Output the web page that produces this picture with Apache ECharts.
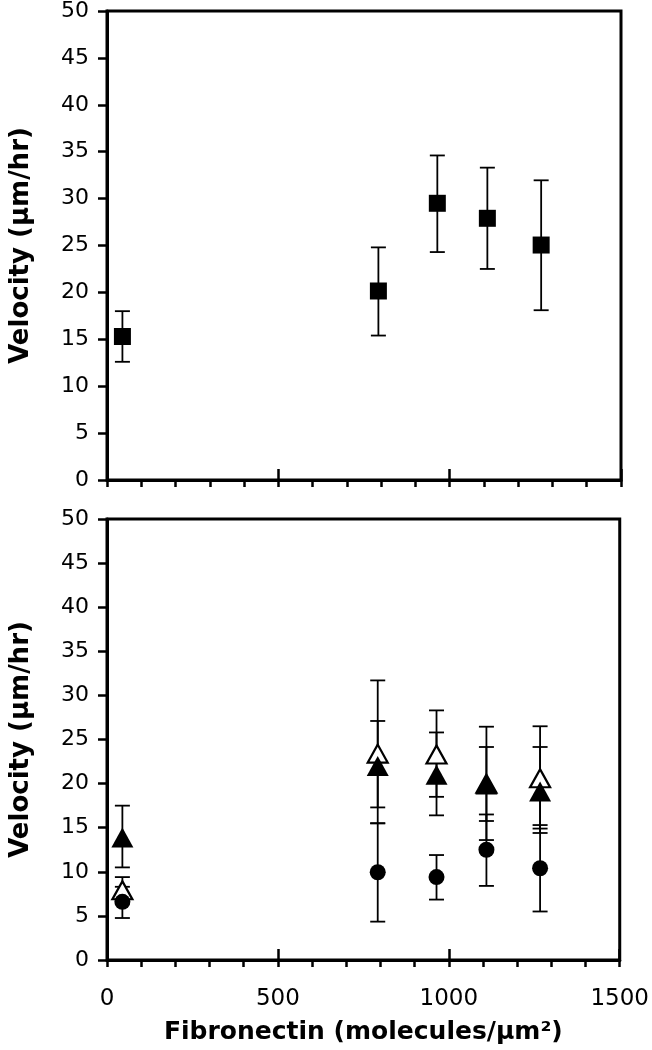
<!DOCTYPE html>
<html>
<head>
<meta charset="utf-8">
<script src="https://cdn.jsdelivr.net/npm/echarts@6/dist/echarts.min.js"></script>
<style>
  html, body { margin: 0; padding: 0; background: #fff; }
  #chart { width: 652px; height: 1050px; }
</style>
</head>
<body>
<div id="chart"></div>
<script>
// fibronectin densities (molecules/µm²)
var fibronectin = [45, 792, 964, 1110, 1267];

// top panel: squares
var sqVel = [15.3, 20.15, 29.5, 27.9, 25.05];
var sqLow = [12.6, 15.4, 24.3, 22.5, 18.1];
var sqHigh = [18.0, 24.8, 34.6, 33.3, 31.95];

// bottom panel: filled triangles
var triVel = [13.9, 22.0, 21.0, 19.9, 19.1];
var triLow = [10.5, 17.3, 16.4, 15.76, 14.4];
var triHigh = [17.5, 27.1, 25.8, 24.15, 24.15];

// bottom panel: open triangles
var openVel = [7.9, 23.4, 23.3, 20.0, 20.6];
var openLow = [6.4, 15.5, 18.5, 13.6, 14.9];
var openHigh = [9.4, 31.7, 28.3, 26.45, 26.5];

// bottom panel: circles
var cirVel = [6.6, 9.95, 9.4, 12.5, 10.4];
var cirLow = [4.76, 4.35, 6.85, 8.4, 5.5];
var cirHigh = [8.3, 15.5, 11.9, 16.5, 15.3];

var font = "'DejaVu Sans', 'Liberation Sans', Arial, sans-serif";

function pts(xs, ys) {
    var out = [];
    for (var i = 0; i < xs.length; i++) out.push([xs[i], ys[i]]);
    return out;
}
function errs(xs, lo, hi) {
    var out = [];
    for (var i = 0; i < xs.length; i++) out.push([xs[i], lo[i], hi[i]]);
    return out;
}

function errRender(params, api) {
    var x = api.value(0);
    var top = api.coord([x, api.value(2)]);
    var bot = api.coord([x, api.value(1)]);
    var w = 7.5;
    var st = { stroke: '#000', lineWidth: 1.8 };
    return {
        type: 'group',
        children: [
            { type: 'line', shape: { x1: top[0], y1: top[1], x2: bot[0], y2: bot[1] }, style: st },
            { type: 'line', shape: { x1: top[0] - w, y1: top[1], x2: top[0] + w, y2: top[1] }, style: st },
            { type: 'line', shape: { x1: bot[0] - w, y1: bot[1], x2: bot[0] + w, y2: bot[1] }, style: st }
        ]
    };
}

function errSeries(data, xi, yi) {
    return {
        type: 'custom', xAxisIndex: xi, yAxisIndex: yi, z: 1,
        renderItem: errRender, encode: { x: 0, y: [1, 2] }, data: data
    };
}

function mainX(grid, showLabels) {
    return {
        type: 'value', gridIndex: grid, min: 0, max: 1500, interval: 100,
        name: showLabels ? 'Fibronectin (molecules/µm²)' : '',
        nameLocation: 'middle', nameGap: 60,
        nameTextStyle: { fontFamily: font, fontSize: 25, fontWeight: 'bold', color: '#000' },
        axisLine: { lineStyle: { color: '#000', width: 3 } },
        axisTick: { show: true, inside: false, length: 7, lineStyle: { color: '#000', width: 2.5 } },
        axisLabel: {
            show: showLabels, margin: 28, fontFamily: font, fontSize: 23, color: '#000',
            formatter: function (v) { return v % 500 === 0 ? String(v) : ''; }
        },
        splitLine: { show: false }
    };
}
function upTicksX(grid) {
    return {
        type: 'value', gridIndex: grid, position: 'bottom', offset: 0,
        min: 0, max: 1500, interval: 500,
        axisLine: { show: false },
        axisTick: { show: true, inside: true, length: 11, lineStyle: { color: '#000', width: 2.5 } },
        axisLabel: { show: false },
        splitLine: { show: false }
    };
}
function velY(grid) {
    return {
        type: 'value', gridIndex: grid, min: 0, max: 50, interval: 5,
        name: 'Velocity (µm/hr)', nameLocation: 'middle', nameGap: 73,
        nameTextStyle: { fontFamily: font, fontSize: 26, fontWeight: 'bold', color: '#000' },
        axisLine: { show: true, lineStyle: { color: '#000', width: 3 } },
        axisTick: { show: true, inside: false, length: 9, lineStyle: { color: '#000', width: 2.5 } },
        axisLabel: { margin: 18, fontFamily: font, fontSize: 22, color: '#000' },
        splitLine: { show: false }
    };
}

var chart = echarts.init(document.getElementById('chart'), null, { renderer: 'canvas' });
chart.setOption({
    animation: false,
    backgroundColor: '#fff',
    grid: [
        { left: 106, top: 11, width: 515, height: 469, show: true, borderColor: '#000', borderWidth: 3 },
        { left: 106, top: 519, width: 515, height: 441, show: true, borderColor: '#000', borderWidth: 3 }
    ],
    xAxis: [mainX(0, false), upTicksX(0), mainX(1, true), upTicksX(1)],
    yAxis: [velY(0), velY(1)],
    series: [
        errSeries(errs(fibronectin, sqLow, sqHigh), 0, 0),
        {
            type: 'scatter', xAxisIndex: 0, yAxisIndex: 0, z: 3,
            symbol: 'rect', symbolSize: 17, itemStyle: { color: '#000', opacity: 1 },
            data: pts(fibronectin, sqVel)
        },
        errSeries(errs(fibronectin, openLow, openHigh), 2, 1),
        errSeries(errs(fibronectin, triLow, triHigh), 2, 1),
        errSeries(errs(fibronectin, cirLow, cirHigh), 2, 1),
        {
            type: 'scatter', xAxisIndex: 2, yAxisIndex: 1, z: 3,
            symbol: 'triangle', symbolSize: [20, 18],
            itemStyle: { color: '#fff', borderColor: '#000', borderWidth: 2.2, opacity: 1 },
            data: pts(fibronectin, openVel)
        },
        {
            type: 'scatter', xAxisIndex: 2, yAxisIndex: 1, z: 4,
            symbol: 'triangle', symbolSize: [22, 20], itemStyle: { color: '#000', opacity: 1 },
            data: pts(fibronectin, triVel)
        },
        {
            type: 'scatter', xAxisIndex: 2, yAxisIndex: 1, z: 4,
            symbol: 'circle', symbolSize: 16, itemStyle: { color: '#000', opacity: 1 },
            data: pts(fibronectin, cirVel)
        }
    ]
});
</script>
</body>
</html>
